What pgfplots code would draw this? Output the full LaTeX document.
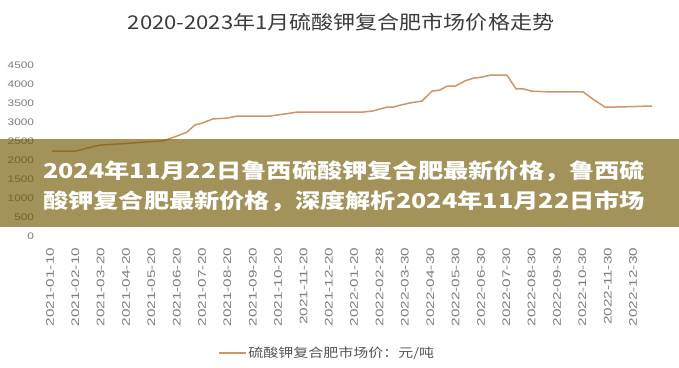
\documentclass[border=0pt]{standalone}
\usepackage{pgfplots}
\pgfplotsset{compat=1.18}
\usepackage{fontspec}
\setmainfont{Liberation Sans}
\newfontfamily\titlefont[FakeStretch=1.16]{Noto Sans CJK SC}
\newfontfamily\bannerfont[FakeStretch=1.23]{Noto Sans CJK SC}
\newfontfamily\legendfont[FakeStretch=1.2]{Noto Sans CJK SC}
\newfontfamily\ytickfont[FakeStretch=1.25]{Liberation Sans}
\newfontfamily\xtickfont[FakeStretch=1.39]{Liberation Sans}
\definecolor{linec}{RGB}{204,150,104}
\definecolor{bannerc}{RGB}{114,89,0}
\definecolor{titlec}{RGB}{60,60,60}
\definecolor{tickc}{RGB}{125,125,125}
\definecolor{legc}{RGB}{85,85,85}
\begin{document}
\begin{tikzpicture}
\fill[white] (0pt,0pt) rectangle (679pt,-367pt);
\path[use as bounding box] (0pt,0pt) rectangle (679pt,-367pt);
\node[font=\titlefont\fontsize{19pt}{23pt}\selectfont, text=titlec, inner sep=0pt] at (341pt,-22pt) {2020-2023年1月硫酸钾复合肥市场价格走势};
\begin{axis}[
  at={(37.3pt,-236.7pt)}, anchor=south west,
  scale only axis, width=633.8pt, height=171pt,
  xmin=-0.5, xmax=24.5, ymin=0, ymax=4500,
  axis line style={draw=none},
  tick style={draw=none},
  major tick length=0pt,
  ytick={0,500,...,4500},
  scaled y ticks=false,
  /pgf/number format/1000 sep={},
  /pgf/number format/assume math mode=true,
  yticklabel style={font=\ytickfont\fontsize{9.5pt}{10pt}\selectfont, text=tickc, anchor=east, inner sep=0pt, xshift=-3pt},
  xtick={0,...,23},
  xticklabels={2021-01-10,2021-02-10,2021-03-20,2021-04-20,2021-05-20,2021-06-20,2021-07-20,2021-08-20,2021-09-20,2021-10-20,2021-11-20,2021-12-20,2022-01-20,2022-02-28,2022-03-30,2022-04-30,2022-05-30,2022-06-30,2022-07-30,2022-08-30,2022-09-30,2022-10-30,2022-11-30,2022-12-30},
  xticklabel style={font=\xtickfont\fontsize{11pt}{12pt}\selectfont, text=tickc, rotate=90, anchor=east, inner sep=0pt},
  xticklabel shift=11pt,
  legend style={at={(0.457,-0.68)}, anchor=center, draw=none, fill=none, inner sep=0pt,
    font=\legendfont\fontsize{12.5pt}{14pt}\selectfont, text=legc},
  legend image code/.code={\draw[#1] (0pt,0pt) -- (27pt,0pt);},
  clip=false,
]
\addplot[linec, line width=1.5pt, line join=round] coordinates {
(0.08,2250) (0.99,2250) (1.46,2330) (1.97,2410) (3.16,2460) (3.67,2490)
(4.46,2520) (5.01,2650) (5.40,2750) (5.72,2940) (6.00,2990) (6.43,3100)
(6.98,3120) (7.38,3175) (8.68,3175) (9.47,3250) (9.74,3280) (12.35,3280)
(12.74,3310) (13.29,3410) (13.53,3410) (13.81,3460) (14.20,3520) (14.67,3570)
(15.07,3830) (15.38,3860) (15.66,3960) (15.98,3960) (16.37,4100) (16.69,4170)
(17.04,4200) (17.36,4250) (18.03,4250) (18.38,3890) (18.66,3890) (19.01,3830)
(19.72,3810) (21.03,3810) (21.42,3620) (21.89,3410) (22.21,3410) (23.75,3440)
};
\addlegendentry{硫酸钾复合肥市场价：元/吨}
\end{axis}
\fill[bannerc, fill opacity=0.65] (0pt,-139pt) rectangle (679pt,-227pt);
\node[font=\bannerfont\bfseries\fontsize{20.5pt}{24pt}\selectfont, text=white, anchor=base west, inner sep=0pt] at (43pt,-178pt) {2024年11月22日鲁西硫酸钾复合肥最新价格，鲁西硫};
\node[font=\bannerfont\bfseries\fontsize{20.5pt}{24pt}\selectfont, text=white, anchor=base west, inner sep=0pt] at (43pt,-208pt) {酸钾复合肥最新价格，深度解析2024年11月22日市场};
\end{tikzpicture}
\end{document}
